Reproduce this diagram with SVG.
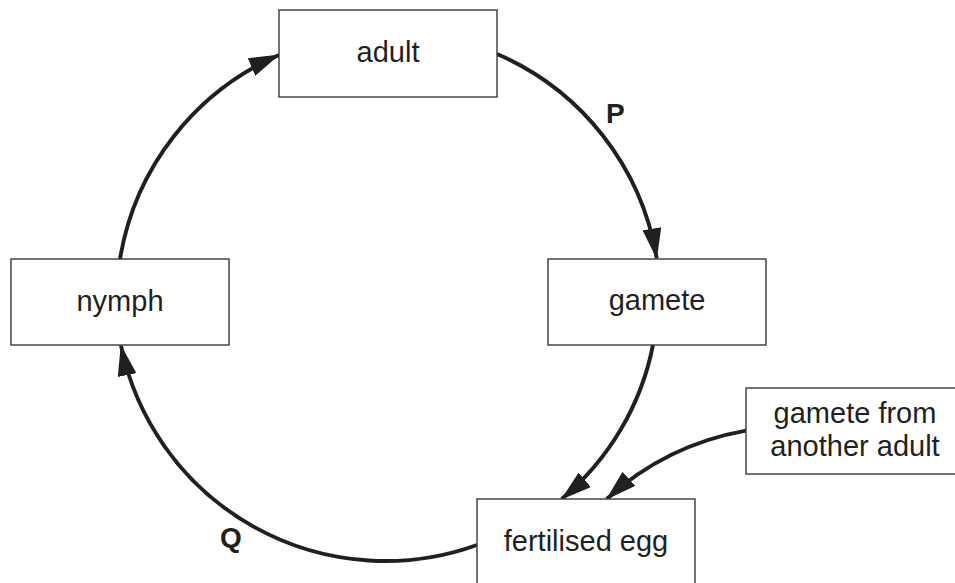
<svg xmlns="http://www.w3.org/2000/svg" width="955" height="583" viewBox="0 0 955 583">
<defs>
<marker id="ah" markerUnits="userSpaceOnUse" viewBox="0 0 31 19" markerWidth="31" markerHeight="19" refX="30" refY="9.5" orient="auto">
<path d="M0,0 L31,9.5 L0,19 Z" fill="#231f20"/>
</marker>
<style>
.box{fill:#fff;stroke:#3a3a3a;stroke-width:1.4}
.lbl{font-family:"Liberation Sans",Arial,Helvetica,sans-serif;font-size:29px;fill:#231f20;text-anchor:middle}
.tag{font-family:"Liberation Sans",Arial,Helvetica,sans-serif;font-size:28px;font-weight:bold;fill:#231f20}
.arc{fill:none;stroke:#231f20;stroke-width:3.9;marker-end:url(#ah)}
</style>
</defs>
<rect width="955" height="583" fill="#fff"/>
<g id="connectors">
<path class="arc" d="M120,259 A270,270 0 0 1 279,55"/>
<path class="arc" d="M497,54 A270,270 0 0 1 656.7,258.3"/>
<path class="arc" d="M653,345 A268,268 0 0 1 561.7,499"/>
<path class="arc" d="M746,430.7 A280,280 0 0 0 606.7,499"/>
<path class="arc" d="M477,545 A270,270 0 0 1 121,345.7"/>
</g>
<g id="adult"><rect class="box" x="279" y="10" width="218" height="87"/><text class="lbl" x="388" y="62">adult</text></g>
<g id="gamete"><rect class="box" x="548" y="259" width="218" height="86"/><text class="lbl" x="657" y="310">gamete</text></g>
<g id="nymph"><rect class="box" x="11" y="259" width="218" height="86"/><text class="lbl" x="120" y="311">nymph</text></g>
<g id="fertilised-egg"><rect class="box" x="477" y="499" width="218" height="92"/><text class="lbl" x="586" y="551">fertilised egg</text></g>
<g id="gamete-other"><rect class="box" x="746" y="388" width="218" height="86"/><text class="lbl" x="855" y="423">gamete from</text><text class="lbl" x="855" y="456">another adult</text></g>
<g id="labels"><text class="tag" x="606" y="123">P</text><text class="tag" x="220" y="547">Q</text></g>
</svg>
